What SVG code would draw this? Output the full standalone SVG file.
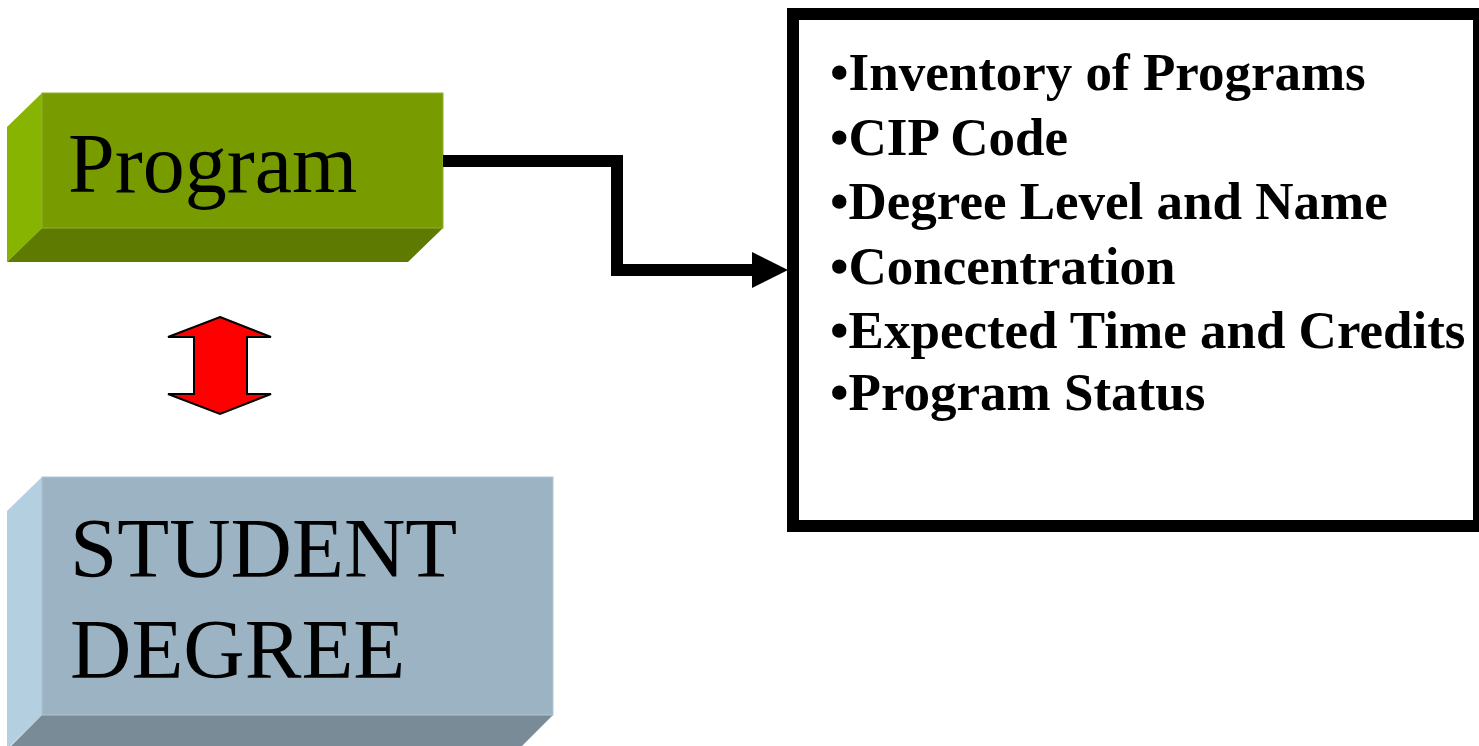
<svg xmlns="http://www.w3.org/2000/svg" width="1479" height="746" viewBox="0 0 1479 746">
<style>
.lbl{font-family:"Liberation Serif","Times New Roman",serif;fill:#000}
.item{font-family:"Liberation Serif","Times New Roman",serif;font-weight:bold;font-size:53px;fill:#000}
.conn{fill:none;stroke:#000;stroke-width:12}
</style>
<defs>
<marker id="ah" viewBox="0 0 36 36" refX="0" refY="18" markerWidth="36" markerHeight="36" markerUnits="userSpaceOnUse" orient="auto">
<polygon points="0,0 36,18 0,36" fill="#000"/>
</marker>
</defs>
<rect width="1479" height="746" fill="#fff"/>
<g id="program">
<polygon points="7,127 42,93 42,228 7,262" fill="#86b400"/>
<polygon points="42,228 443,228 408,262 7,262" fill="#5e7a00"/>
<rect x="42" y="93" width="401" height="135" fill="#789c00" stroke="#8fb030" stroke-width="1"/>
<text class="lbl" x="68" y="192" font-size="84">Program</text>
</g>
<g id="student-degree">
<polygon points="7,511 42,477 42,715 7,749" fill="#b3cfe0"/>
<polygon points="42,715 553,715 518,750 7,750" fill="#798b97"/>
<rect x="42" y="477" width="511" height="238" fill="#9cb3c3" stroke="#b0c6d4" stroke-width="1"/>
<text class="lbl" font-size="85"><tspan x="70" y="577">STUDENT</tspan><tspan x="70" y="678">DEGREE</tspan></text>
</g>
<g id="double-arrow">
<polygon points="220,317 271,337 247,337 247,394 271,394 220,414 168,394 194,394 194,337 168,337" fill="#ff0000" stroke="#000" stroke-width="2" stroke-linejoin="miter"/>
</g>
<g id="details">
<rect x="793" y="14" width="686" height="512" fill="#fff" stroke="#000" stroke-width="12"/>
<text class="item" x="830" y="90">•Inventory of Programs</text>
<text class="item" x="830" y="155">•CIP Code</text>
<text class="item" x="830" y="219">•Degree Level and Name</text>
<text class="item" x="830" y="284">•Concentration</text>
<text class="item" x="830" y="348">•Expected Time and Credits</text>
<text class="item" x="830" y="410">•Program Status</text>
</g>
<g id="connectors">
<path class="conn" d="M443,161 H617 V270 H752" marker-end="url(#ah)"/>
</g>
</svg>
